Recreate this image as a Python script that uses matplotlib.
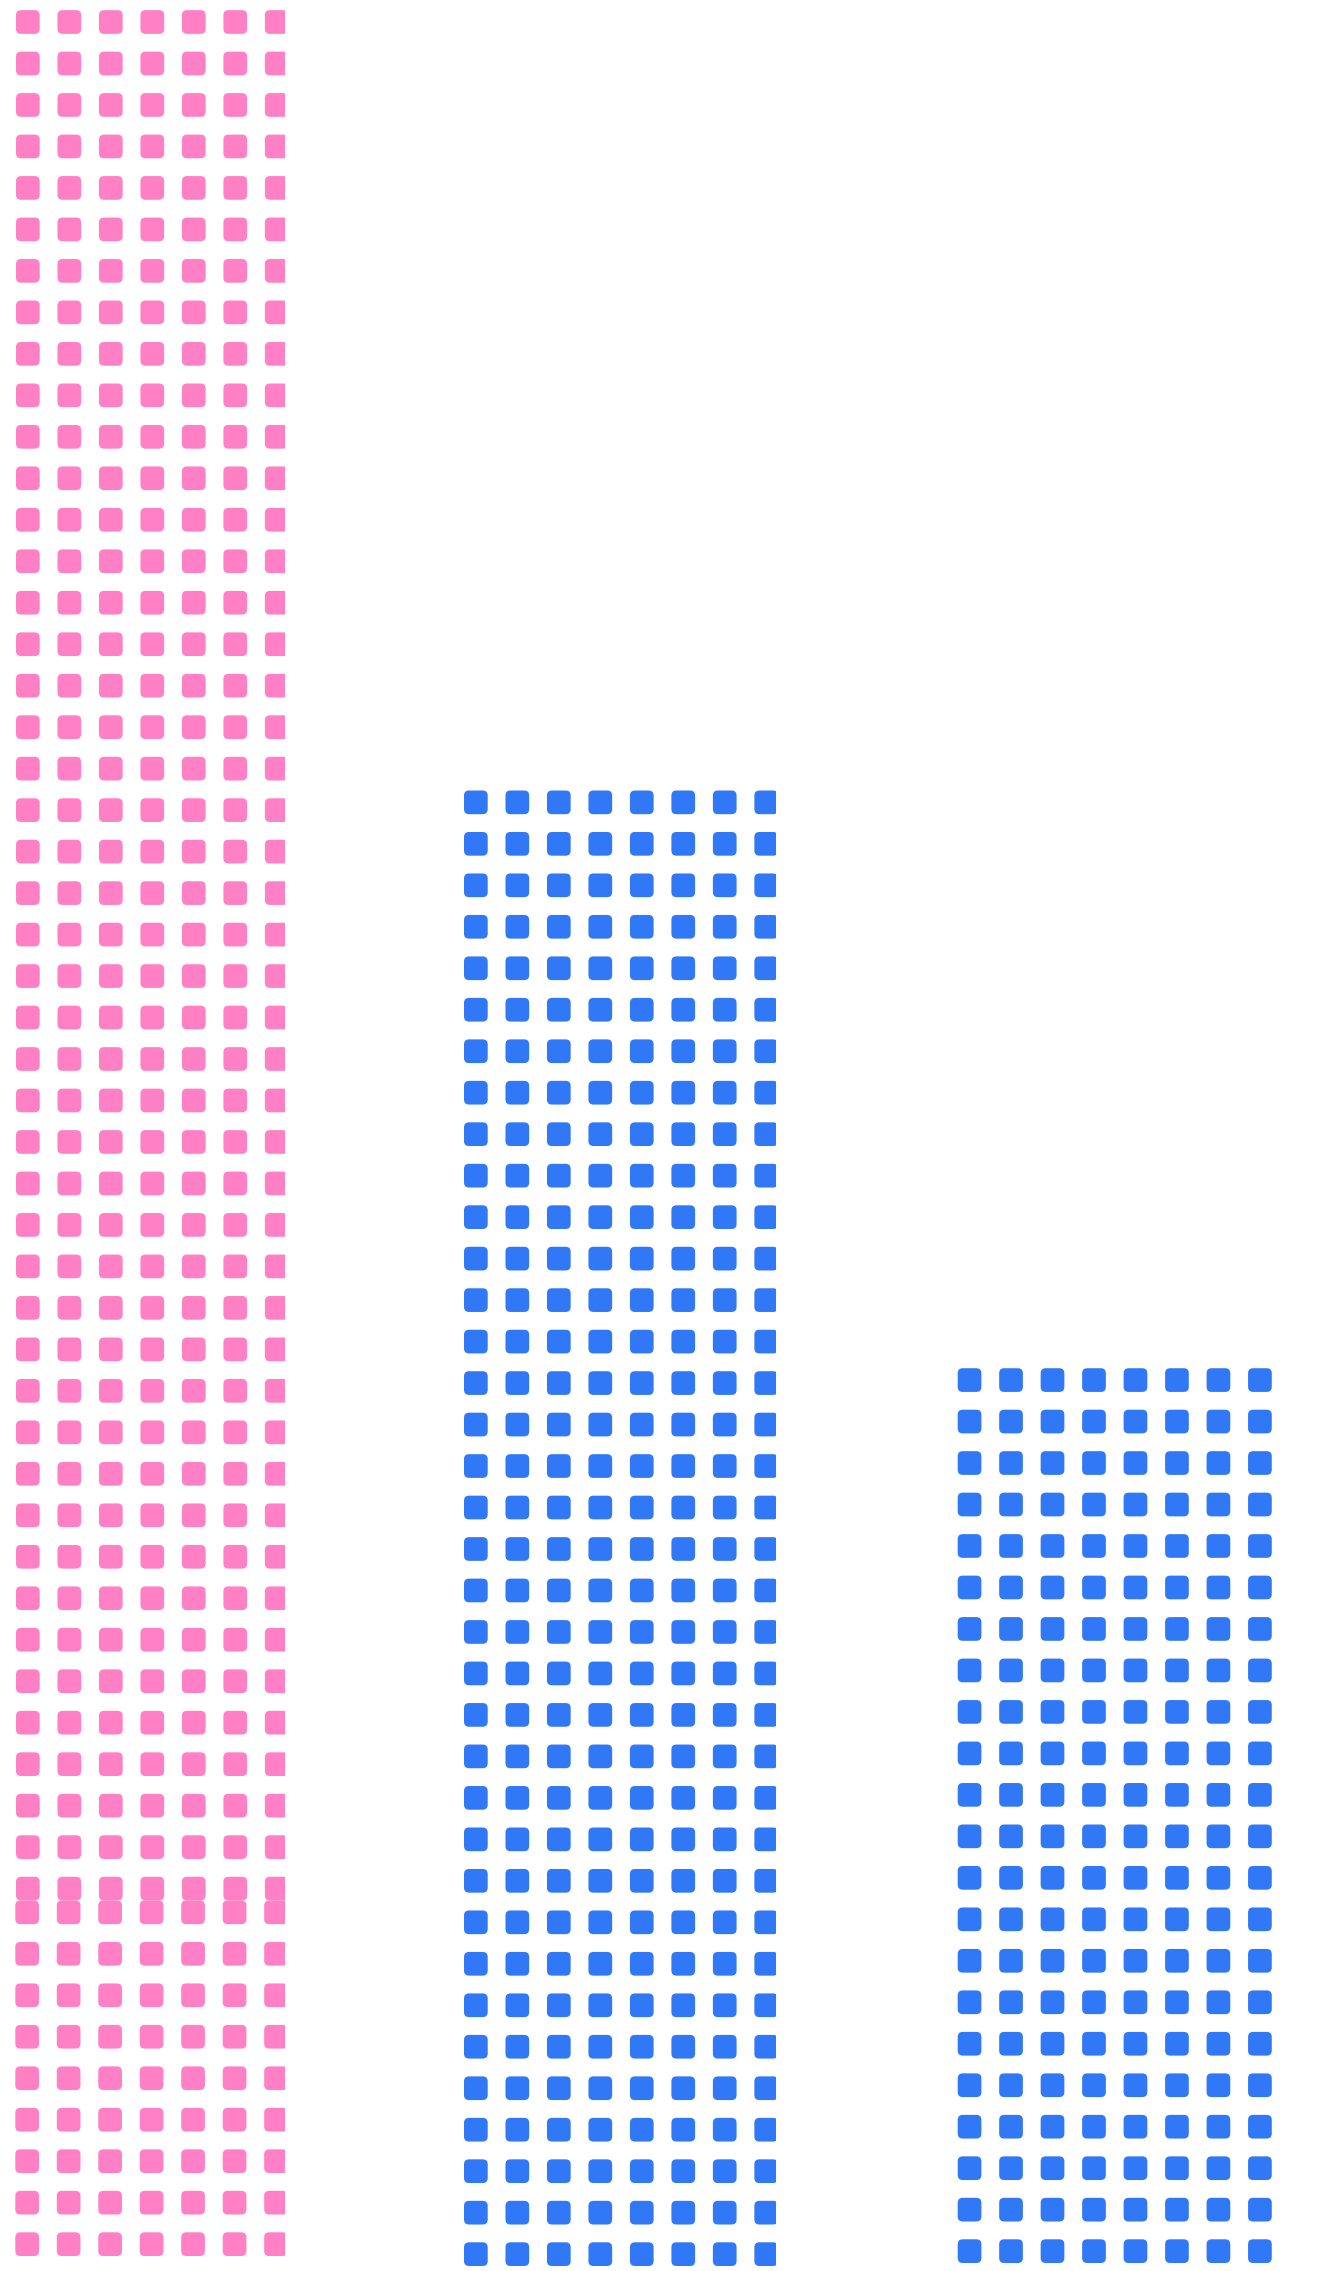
import matplotlib
matplotlib.use('Agg')
import matplotlib.pyplot as plt
from matplotlib.patches import FancyBboxPatch, Rectangle

# data: rows of symbols per stacked segment, columns per bar
categories = ['Cat 1', 'Cat 2', 'Cat 3']
base_rows = [9, 36, 22]
stack_rows = [46, 0, 0]
columns = [7, 8, 8]

# layout (pixels)
W, H = 1334, 2271
pitch = 41.48
size = 23.7
radius = 5
left_edge = [16, 464, 957.7]
base_shift = [-0.7, 0, 0]
baseline = [15, 5, 8]
clip_right = [285, 776, None]
base_color = ['#ff80c4', '#3178f6', '#3178f6']
stack_color = ['#ff80c4', '#3178f6', '#3178f6']

fig = plt.figure(figsize=(W / 100, H / 100), dpi=100)
ax = fig.add_axes([0, 0, 1, 1])
ax.set_xlim(0, W)
ax.set_ylim(0, H)
ax.axis('off')


def draw_segment(x0, y0, nrows, ncols, color, clip):
    for r in range(nrows):
        for c in range(ncols):
            p = FancyBboxPatch(
                (x0 + c * pitch, y0 + r * pitch), size, size,
                boxstyle='round,pad=0,rounding_size=%g' % radius,
                facecolor=color, edgecolor='none'
            )
            ax.add_patch(p)
            if clip is not None:
                p.set_clip_path(clip)
    return y0 + (nrows - 1) * pitch + size


for i, cat in enumerate(categories):
    clip = None
    if clip_right[i] is not None:
        clip = Rectangle((0, 0), clip_right[i], H, transform=ax.transData)
    top = draw_segment(left_edge[i] + base_shift[i], baseline[i],
                       base_rows[i], columns[i], base_color[i], clip)
    if stack_rows[i] > 0:
        draw_segment(left_edge[i], top, stack_rows[i], columns[i],
                     stack_color[i], clip)

fig.savefig('out.png', dpi=100, facecolor='white')
